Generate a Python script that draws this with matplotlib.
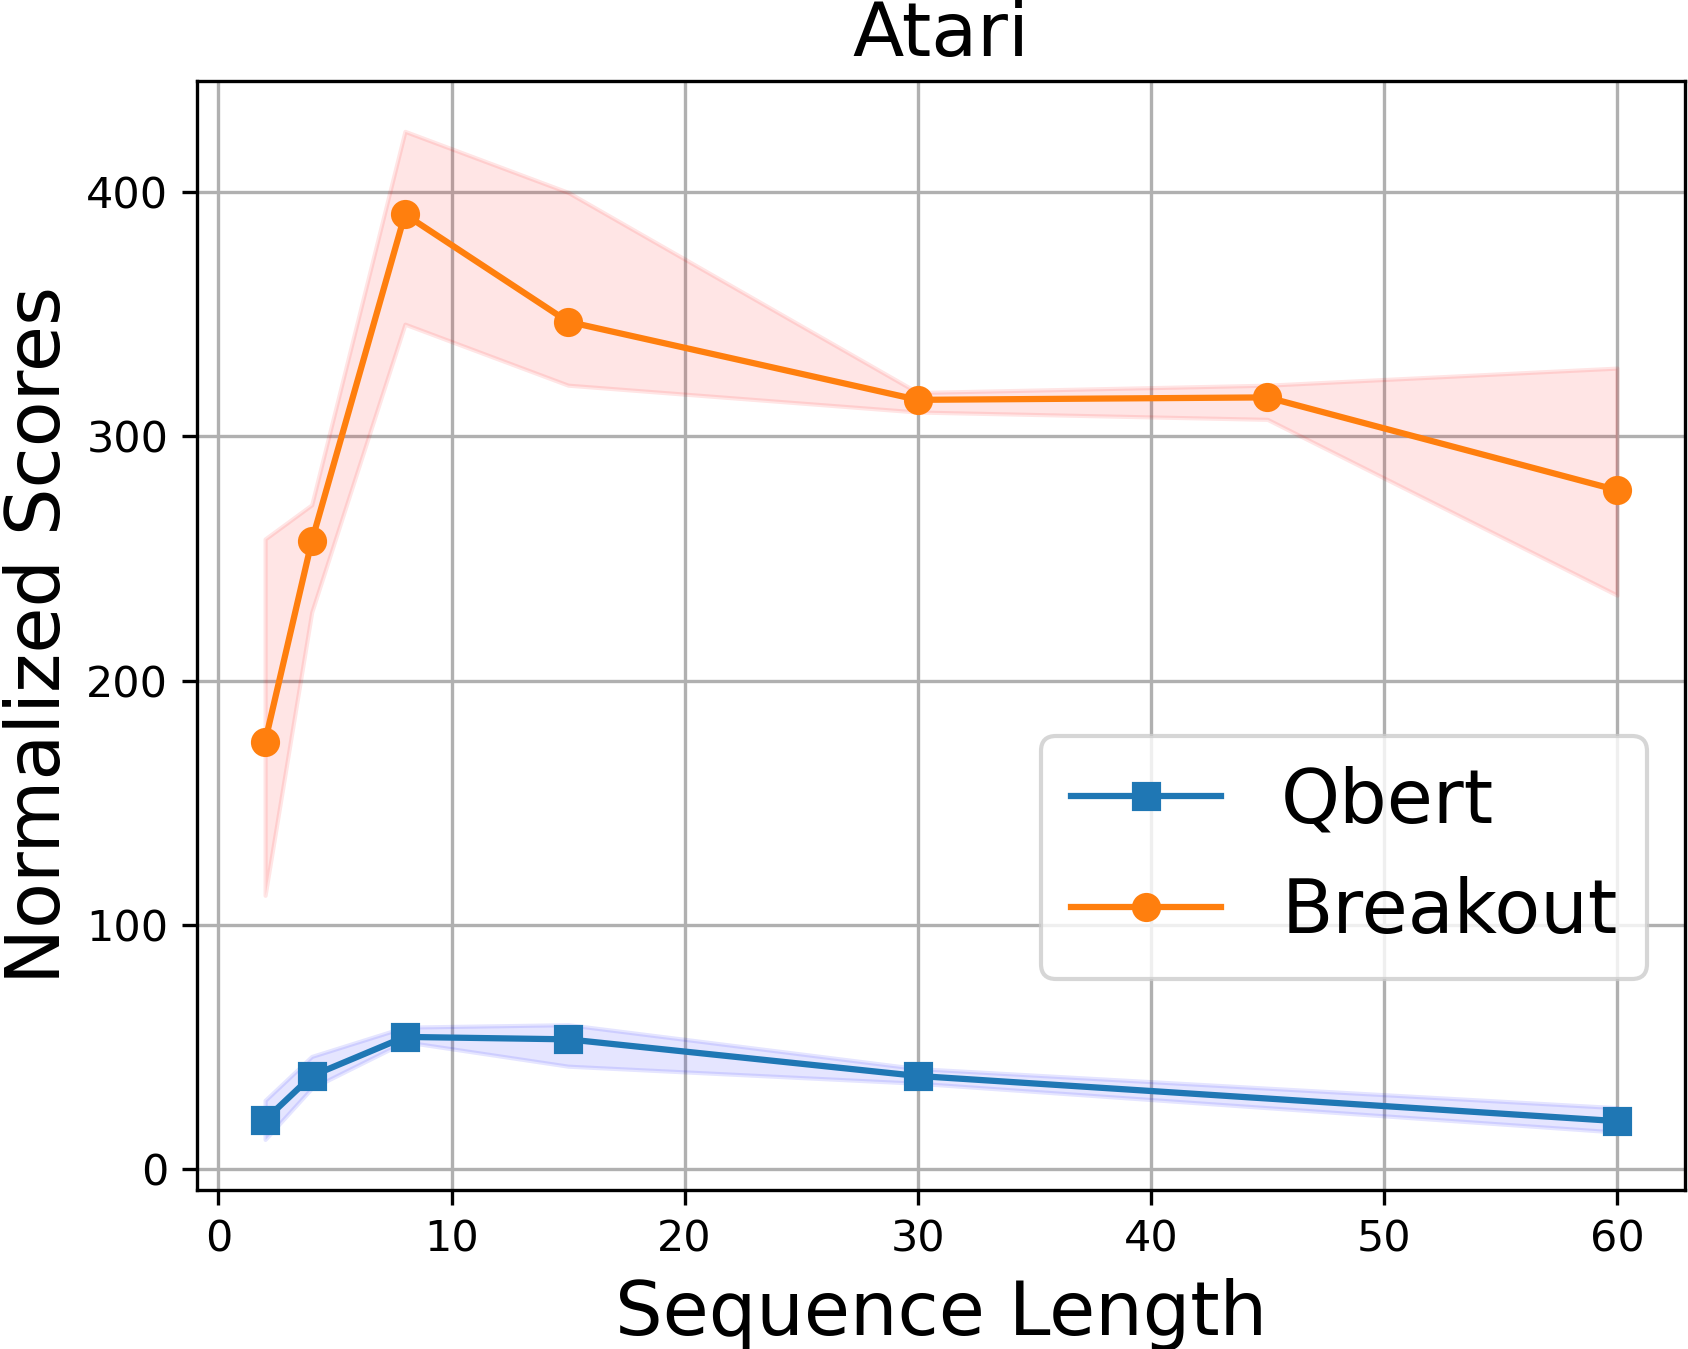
import matplotlib
matplotlib.use('Agg')
import matplotlib.pyplot as plt
import numpy as np

# data
qbert_x = [2, 4, 8, 15, 30, 60]
qbert_mean = [20, 38, 54, 53, 38, 19.5]
qbert_low = [12, 33, 52, 42, 35, 15]
qbert_high = [28, 46, 58, 59, 41, 25]

breakout_x = [2, 4, 8, 15, 30, 45, 60]
breakout_mean = [175, 257, 391, 347, 315, 316, 278]
breakout_low = [112, 228, 346, 321, 310, 307, 235]
breakout_high = [258, 272, 425, 400, 318, 321, 328]

fig = plt.figure(figsize=(1688 / 300, 1349 / 300), dpi=300)
ax = fig.add_axes([0.117, 0.118, 0.881, 0.822])

ax.plot(qbert_x, qbert_mean, marker='s', markersize=6, linewidth=1.5, color='tab:blue', label='Qbert')
ax.fill_between(qbert_x, qbert_low, qbert_high, color='b', alpha=0.1)
ax.plot(breakout_x, breakout_mean, marker='o', markersize=6, linewidth=1.5, color='tab:orange', label='Breakout')
ax.fill_between(breakout_x, breakout_low, breakout_high, color='r', alpha=0.1)

ax.grid(True)
ax.set_axisbelow(True)
ax.tick_params(labelsize=10.3)
ax.set_xlabel('Sequence Length', fontsize=18)
ax.set_ylabel('Normalized Scores', fontsize=18, labelpad=2.5)
ax.set_title('Atari', fontsize=18)
ax.legend(fontsize=18, loc='lower right', bbox_to_anchor=(0.975, 0.19), borderaxespad=0)

fig.savefig('out.png')
